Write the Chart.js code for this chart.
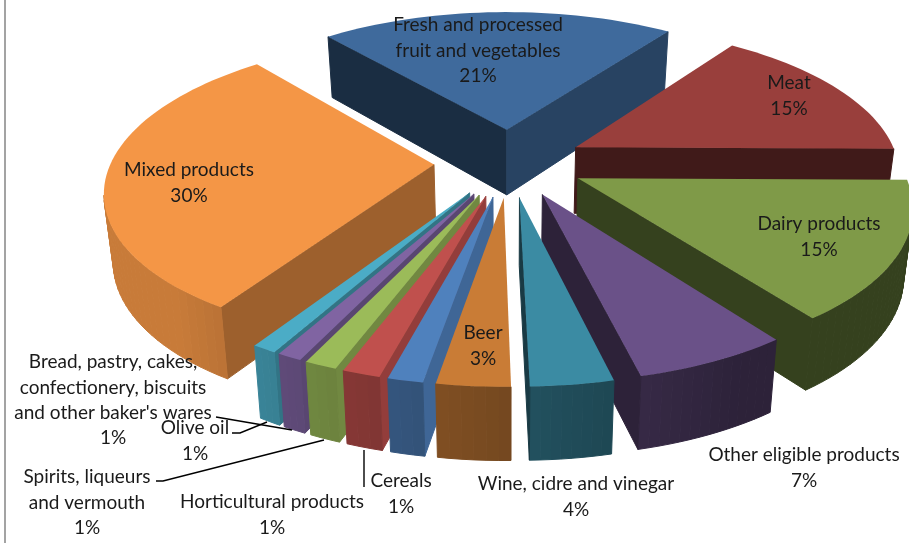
<!DOCTYPE html>
<html><head><meta charset="utf-8">
<style>html,body{margin:0;padding:0;background:#fff}canvas{display:block}</style>
<script src="https://cdn.jsdelivr.net/npm/chart.js@4"></script>
</head><body><canvas id="c" width="909" height="543"></canvas>
<script>
const categories = ["Fresh and processed fruit and vegetables","Meat","Dairy products","Other eligible products","Wine, cidre and vinegar","Beer","Cereals","Horticultural products","Spirits, liqueurs and vermouth","Olive oil","Bread, pastry, cakes, confectionery, biscuits and other baker's wares","Mixed products"];
const shares = [21,15,15,7,4,3,1,1,1,1,1,30];
const colors = ["#3f6a9c","#993f3c","#7f9a48","#6a5188","#3b8ba3","#c97c36","#4f81bd","#c0504d","#9bbb59","#8064a2","#4bacc6","#f49646"];
const labelLines = [["Fresh and processed","fruit and vegetables","21%"],["Meat","15%"],["Dairy products","15%"],["Other eligible products","7%"],["Wine, cidre and vinegar","4%"],["Beer","3%"],["Cereals","1%"],["Horticultural products","1%"],["Spirits, liqueurs","and vermouth","1%"],["Olive oil","1%"],["Bread, pastry, cakes,","confectionery, biscuits","and other baker's wares","1%"],["Mixed products","30%"]];
const labelAnchors = [[478,25],[789,83],[819,224],[804,455],[576,484],[483,333],[401,481],[272,502],[87,477],[195,428],[113,362],[189,170]];
const leaders = [[[216,417],[292,430]],[[232,433],[240,433],[267,422]],[[156,481],[163,481],[324,440]],[[364,450],[364,487]]];
// perspective foreshortening of the view: extra turn (deg) by rendered bearing
const warpAt = [0,40,90,145,170,184,195,198.6,202.2,206,300,320,360];
const warpBy = [-1,-1,0,-1,-3.2,-5.4,-5.4,-3.8,-1.8,-0.5,0,-1,-1];

const RX=323, RY=146, PERSP=0.16, STEP=25.4, INSET=0.977;
function warp(t){
 let b=((t*180/Math.PI+90)%360+360)%360, d=0;
 for(let i=0;i<warpAt.length-1;i++){if(b>=warpAt[i]&&b<=warpAt[i+1]){d=warpBy[i]+(warpBy[i+1]-warpBy[i])*(b-warpAt[i])/(warpAt[i+1]-warpAt[i]);break;}}
 return t+d*Math.PI/180;
}
function project(cx,cy,u,v){const w=1+PERSP*v,x=cx+RX*u/w;return {x,y:cy-RY*v/w,d:66.6-5.8*v,bx:cx+(x-cx)*INSET};}
function shade(hex,f){const n=parseInt(hex.slice(1),16);return `rgb(${Math.round((n>>16&255)*f)},${Math.round((n>>8&255)*f)},${Math.round((n&255)*f)})`;}
function quad(ctx,a,b,fill){ctx.beginPath();ctx.moveTo(a.x,a.y);ctx.lineTo(b.x,b.y);ctx.lineTo(b.bx,b.y+b.d);ctx.lineTo(a.bx,a.y+a.d);ctx.closePath();ctx.fillStyle=fill;ctx.strokeStyle=fill;ctx.lineWidth=1;ctx.fill();ctx.stroke();}
const pie3d={id:'pie3d',
 beforeDatasetsDraw(chart){
  const ctx=chart.ctx, arcs=chart.getDatasetMeta(0).data;
  ctx.save();
  ctx.fillStyle='#a3a3a3';ctx.fillRect(4,0,2,543);
  const order=arcs.map((a,i)=>({a,i,mid:(a.startAngle+a.endAngle)/2})).sort((p,q)=>Math.sin(p.mid)-Math.sin(q.mid));
  for(const {a,i,mid} of order){
   const e=a.options.offset/a.outerRadius, ax=e*Math.cos(warp(mid)), ay=-e*Math.sin(warp(mid));
   const n=Math.max(3,Math.ceil((a.endAngle-a.startAngle)*30));
   const pts=[project(a.x,a.y,ax,ay)];
   for(let k=0;k<=n;k++){const t=warp(a.startAngle+(a.endAngle-a.startAngle)*k/n);pts.push(Object.assign(project(a.x,a.y,ax+Math.cos(t),ay-Math.sin(t)),{t}));}
   const col=a.options.backgroundColor;
   for(let k=0;k<pts.length;k++){
    const p=pts[k],q=pts[(k+1)%pts.length];
    if(q.x>=p.x) continue;
    let f;
    if(k===0||k===pts.length-1){const dx=q.x-p.x,dy=q.y-p.y,l=Math.hypot(dx,dy);f=0.42+0.4*Math.max(0,dy/l);}
    else{let deg=(p.t+q.t)/2*180/Math.PI+90;deg=((deg%360)+360)%360;f=Math.min(.82,Math.max(.42,.42+(deg-150)*.0055));}
    quad(ctx,p,q,shade(col,f));
   }
   ctx.beginPath();pts.forEach((p,k)=>k?ctx.lineTo(p.x,p.y):ctx.moveTo(p.x,p.y));ctx.closePath();
   ctx.fillStyle=col;ctx.fill();
  }
  ctx.restore();
  return false;
 },
 afterDraw(chart){
  const ctx=chart.ctx;ctx.save();
  ctx.strokeStyle='#000';ctx.lineWidth=1.4;
  leaders.forEach(l=>{ctx.beginPath();l.forEach((p,k)=>k?ctx.lineTo(p[0],p[1]):ctx.moveTo(p[0],p[1]));ctx.stroke();});
  ctx.fillStyle='#1a1a1a';ctx.font='19px Lato';ctx.textAlign='center';ctx.textBaseline='middle';
  labelLines.forEach((lines,i)=>lines.forEach((t,k)=>ctx.fillText(t,labelAnchors[i][0],labelAnchors[i][1]+k*STEP)));
  ctx.restore();
 }};
new Chart(document.getElementById('c'),{type:'pie',
 data:{labels:categories,datasets:[{data:shares,backgroundColor:colors,borderWidth:0,offset:34}]},
 options:{responsive:false,animation:false,rotation:-39,layout:{padding:{left:110,bottom:218}},plugins:{legend:{display:false},tooltip:{enabled:false}}},
 plugins:[pie3d]});
</script></body></html>
